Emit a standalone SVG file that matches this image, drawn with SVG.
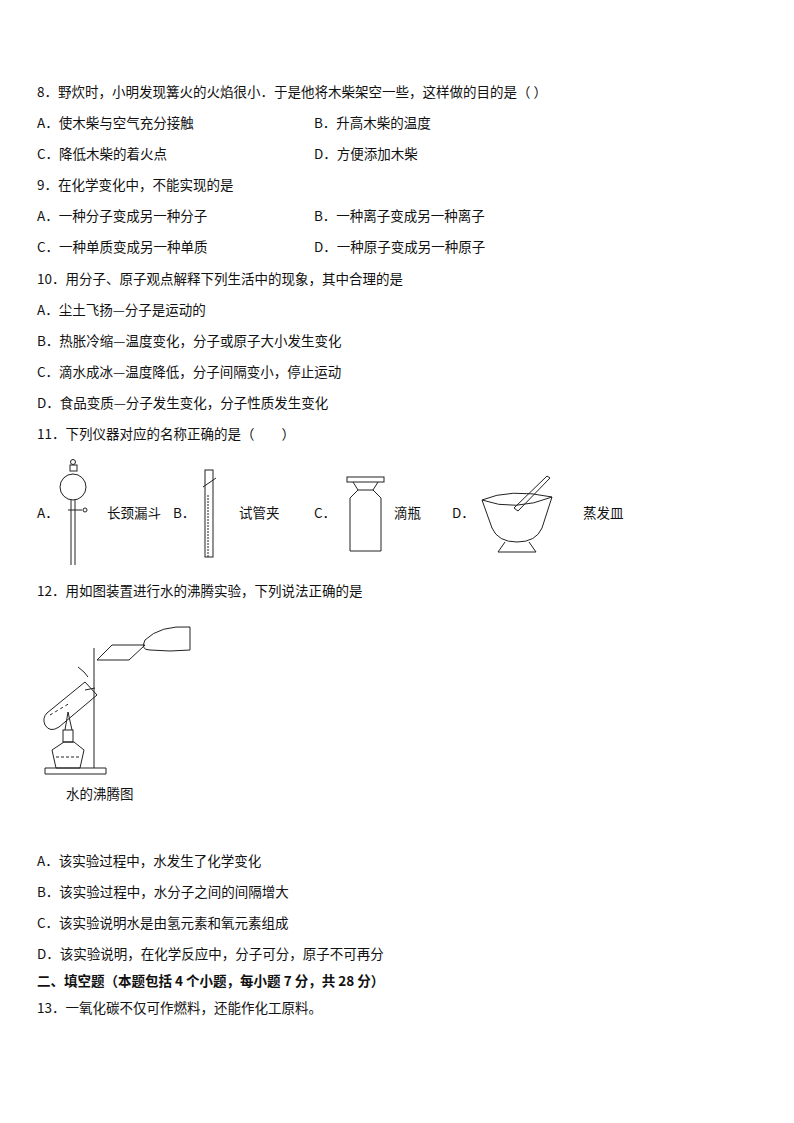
<svg xmlns="http://www.w3.org/2000/svg" width="794" height="1123" viewBox="0 0 794 1123">
<style>
text{font-family:"Noto Sans CJK SC","Liberation Sans",sans-serif;font-size:13.5px;fill:#111}
.b{font-weight:bold}
.l{fill:none;stroke:#222;stroke-width:1}
</style>
<rect width="794" height="1123" fill="#fff"/>
<g id="q8">
<text x="37" y="97">8．野炊时，小明发现篝火的火焰很小．于是他将木柴架空一些，这样做的目的是（   ）</text>
<text x="37" y="128">A．使木柴与空气充分接触</text><text x="314" y="128">B．升高木柴的温度</text>
<text x="37" y="159">C．降低木柴的着火点</text><text x="314" y="159">D．方便添加木柴</text>
</g>
<g id="q9">
<text x="37" y="190">9．在化学变化中，不能实现的是</text>
<text x="37" y="221">A．一种分子变成另一种分子</text><text x="314" y="221">B．一种离子变成另一种离子</text>
<text x="37" y="252">C．一种单质变成另一种单质</text><text x="314" y="252">D．一种原子变成另一种原子</text>
</g>
<g id="q10">
<text x="37" y="284">10．用分子、原子观点解释下列生活中的现象，其中合理的是</text>
<text x="37" y="315">A．尘土飞扬—分子是运动的</text>
<text x="37" y="346">B．热胀冷缩—温度变化，分子或原子大小发生变化</text>
<text x="37" y="377">C．滴水成冰—温度降低，分子间隔变小，停止运动</text>
<text x="37" y="408">D．食品变质—分子发生变化，分子性质发生变化</text>
</g>
<g id="q11">
<text x="37" y="439">11．下列仪器对应的名称正确的是（　　）</text>
<text x="37" y="518">A．</text>
<circle cx="73" cy="462" r="2.5" class="l"/><rect x="70" y="465" width="7" height="6" class="l"/>
<circle cx="73" cy="487" r="13" class="l"/>
<path d="M71 500V565M75 500V565M68 510H82" class="l"/><circle cx="85" cy="510" r="2" class="l"/>
<text x="107" y="518">长颈漏斗</text>
<text x="173" y="518">B．</text>
<rect x="205" y="470" width="8" height="87" class="l"/><path d="M208 495V557" class="l" stroke-dasharray="2 1"/>
<path d="M203 487L216 478" class="l"/>
<text x="239" y="518">试管夹</text>
<text x="314" y="518">C．</text>
<rect x="347" y="477" width="37" height="5" class="l"/>
<path d="M353 482L358 490H373L378 482" class="l"/>
<path d="M358 490L350 498V551H381V498L373 490" class="l"/>
<text x="394" y="518">滴瓶</text>
<text x="452" y="518">D．</text>
<path d="M482 500Q510 488 552 497L542 528Q536 542 517 542Q498 542 492 528Z" class="l"/>
<path d="M482 500Q515 512 552 497" class="l"/>
<path d="M505 542L498 552H536L529 542" class="l"/>
<path d="M514 508L547 476L550 478L518 511Z" class="l"/>
<text x="583" y="518">蒸发皿</text>
</g>
<g id="q12">
<text x="37" y="596">12．用如图装置进行水的沸腾实验，下列说法正确的是</text>
<g id="fig">
<path d="M45 768H106V774H45Z" class="l"/><path d="M94 648V768" class="l" stroke-width="2"/>
<path d="M47 713L85 682L97 695L59 727Q50 733 45 725Q42 718 47 713Z" class="l"/>
<path d="M50 715L70 703" class="l" stroke-dasharray="3 3"/>
<path d="M78 667Q85 672 88 677" class="l"/><path d="M85 690L95 688" class="l"/>
<path d="M112 645L145 645L129 660L97 660Z" class="l"/>
<path d="M145 640Q160 625 190 627V650Q170 652 150 650Q140 650 145 640Z" class="l"/>
<path d="M56 768L52 750L64 742H74L84 750L80 768Z" class="l"/>
<path d="M56 757H80" class="l" stroke-dasharray="3 2"/>
<rect x="63" y="730" width="10" height="12" class="l"/>
<path d="M65 730L68 712L72 730" class="l"/>
<text x="66" y="799">水的沸腾图</text>
</g>
<text x="37" y="866">A．该实验过程中，水发生了化学变化</text>
<text x="37" y="897">B．该实验过程中，水分子之间的间隔增大</text>
<text x="37" y="928">C．该实验说明水是由氢元素和氧元素组成</text>
<text x="37" y="959">D．该实验说明，在化学反应中，分子可分，原子不可再分</text>
</g>
<g id="s2">
<text x="37" y="986" class="b">二、填空题（本题包括 4 个小题，每小题 7 分，共 28 分）</text>
<text x="37" y="1013">13．一氧化碳不仅可作燃料，还能作化工原料。</text>
</g>
<g id="connectors"/>
</svg>
